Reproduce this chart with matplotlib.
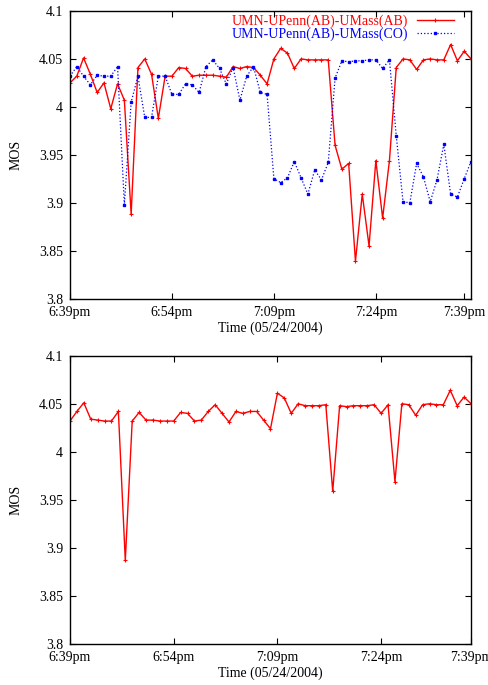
import numpy as np
import matplotlib
matplotlib.use("Agg")
import matplotlib.pyplot as plt

plt.rcParams['font.family'] = ['Liberation Serif', 'DejaVu Serif']

# tick labels (minutes after 6:39pm)
tick_pos = [0, 15, 30, 45, 58]
tick_labels = ['6:39pm', '6:54pm', '7:09pm', '7:24pm', '7:39pm']

# top panel, one sample per minute
mos_ab = [4.025, 4.032, 4.051, 4.034, 4.015, 4.025, 3.998, 4.024, 4.007, 3.888,
          4.041, 4.050, 4.034, 3.988, 4.032, 4.032, 4.041, 4.040, 4.032, 4.033,
          4.033, 4.033, 4.032, 4.031, 4.042, 4.040, 4.042, 4.041, 4.033, 4.024,
          4.050, 4.061, 4.056, 4.040, 4.050, 4.049, 4.049, 4.049, 4.049, 3.960,
          3.935, 3.941, 3.839, 3.909, 3.855, 3.944, 3.884, 3.944, 4.041, 4.050,
          4.049, 4.039, 4.049, 4.050, 4.049, 4.049, 4.065, 4.048, 4.058, 4.050]
mos_co = [4.032, 4.042, 4.032, 4.023, 4.033, 4.032, 4.032, 4.042, 3.898, 4.005,
          4.032, 3.989, 3.989, 4.032, 4.032, 4.013, 4.013, 4.024, 4.023, 4.015,
          4.042, 4.049, 4.040, 4.024, 4.041, 4.007, 4.032, 4.042, 4.015, 4.013,
          3.925, 3.921, 3.926, 3.943, 3.926, 3.909, 3.934, 3.924, 3.942, 4.030,
          4.048, 4.047, 4.048, 4.048, 4.049, 4.049, 4.040, 4.049, 3.970, 3.901,
          3.900, 3.941, 3.927, 3.901, 3.924, 3.961, 3.909, 3.906, 3.925, 3.943]

# bottom panel
mos_bottom = [4.032, 4.042, 4.051, 4.034, 4.033, 4.032, 4.032, 4.042, 3.887, 4.032,
              4.041, 4.033, 4.033, 4.032, 4.032, 4.032, 4.041, 4.040, 4.032, 4.033,
              4.042, 4.049, 4.040, 4.031, 4.042, 4.040, 4.042, 4.042, 4.033, 4.024,
              4.061, 4.056, 4.040, 4.050, 4.048, 4.048, 4.048, 4.049, 3.959, 4.048,
              4.047, 4.048, 4.048, 4.048, 4.049, 4.040, 4.049, 3.969, 4.050, 4.049,
              4.038, 4.049, 4.050, 4.049, 4.049, 4.064, 4.048, 4.057, 4.050]

yticks = [3.8, 3.85, 3.9, 3.95, 4.0, 4.05, 4.1]
ylabels = ['3.8', '3.85', '3.9', '3.95', '4', '4.05', '4.1']

fig = plt.figure(figsize=(4.89, 6.85), dpi=100)
ax1 = fig.add_axes([0.1431, 0.564, 0.8201, 0.420])
ax2 = fig.add_axes([0.1431, 0.0599, 0.8201, 0.4208])


def style(ax, xmax):
    ax.set_xlim(0, xmax)
    ax.set_ylim(3.8, 4.1)
    ax.set_xticks(tick_pos)
    ax.set_xticklabels(tick_labels)
    ax.set_yticks(yticks)
    ax.set_yticklabels(ylabels)
    ax.tick_params(direction='in', length=4, width=0.8, top=True, right=True,
                   labelsize=10, pad=5)
    for s in ax.spines.values():
        s.set_linewidth(1.0)
    ax.set_ylabel('MOS', fontsize=10, labelpad=12)
    ax.set_xlabel('Time (05/24/2004)', fontsize=10, labelpad=2)


x1 = np.arange(len(mos_ab))
ax1.plot(x1, mos_ab, color='#ff0000', lw=1.0, marker='+', ms=3, mew=0.8,
         label='UMN-UPenn(AB)-UMass(AB)')
ax1.plot(x1, mos_co, color='#0000ff', lw=0.9, ls=':', marker='s', ms=2,
         label='UMN-UPenn(AB)-UMass(CO)')
style(ax1, 59)
leg = ax1.legend(loc='upper right', bbox_to_anchor=(0.972, 1.008), frameon=False,
                 markerfirst=False, fontsize=10, handlelength=2.7,
                 labelspacing=0.0, borderaxespad=0.0, handletextpad=0.6)
for t, c in zip(leg.get_texts(), ['#ff0000', '#0000ff']):
    t.set_color(c)

x2 = np.arange(len(mos_bottom))
ax2.plot(x2, mos_bottom, color='#ff0000', lw=1.0, marker='+', ms=3, mew=0.8)
style(ax2, 58)

fig.savefig('out.png', dpi=100)
